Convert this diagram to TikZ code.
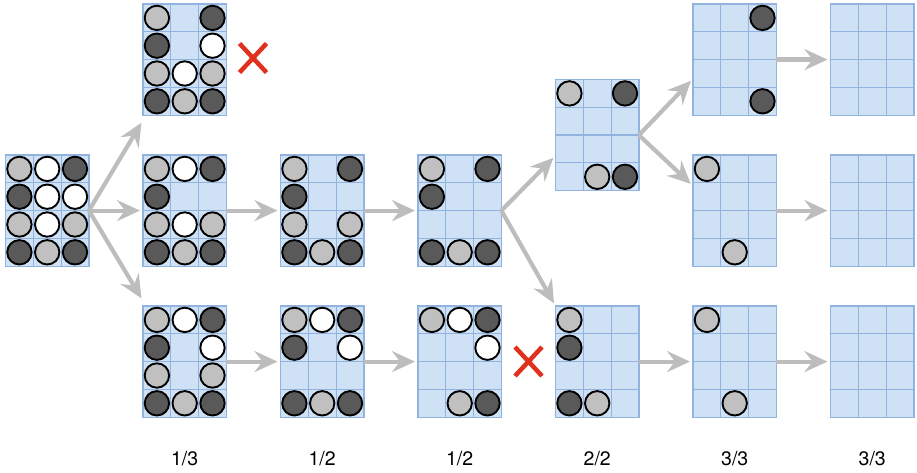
\documentclass[tikz,border=0pt]{standalone}
\usepackage{fontspec}
\setmainfont{TeX Gyre Heros}
\usetikzlibrary{arrows.meta,calc}
\definecolor{gridf}{HTML}{CFE1F4}
\definecolor{gridc}{HTML}{93B3DF}
\definecolor{lg}{HTML}{C0C0C0}
\definecolor{dg}{HTML}{595959}
\definecolor{arrc}{HTML}{BDBDBD}
\definecolor{xred}{HTML}{E0301E}
\tikzset{
  gridbox/.style={draw=gridc, fill=gridf, line width=1.2pt, minimum width=83.4pt, minimum height=111.2pt, inner sep=0pt, outer sep=0pt},
  gridline/.style={draw=gridc, line width=1.2pt},
  stone/.style={draw=black, line width=1.9pt},
  arr/.style={draw=arrc, line width=4.2pt, -{Stealth[length=23pt,width=21pt,inset=8pt]}, shorten >=3pt},
  xmark/.style={draw=xred, line width=4.5pt},
  lbl/.style={font=\fontsize{19.5}{22}\selectfont, inner sep=0pt},
  xnode/.style={inner sep=0pt, minimum size=28pt}
}
\newcommand\mygrid[3]{%
  \node[gridbox] (#1) at ({#2+41.7},{#3+55.6}) {};
  \foreach \i in {1,2} {\draw[gridline] ({#2+27.8*\i},#3) -- ({#2+27.8*\i},{#3+111.2});}
  \foreach \j in {1,2,3} {\draw[gridline] (#2,{#3+27.8*\j}) -- ({#2+83.4},{#3+27.8*\j});}
}
\newcommand\mystones[3]{%
  \foreach \c/\r/\k in {#3} {\draw[stone, fill=\k] ({#1+13.9+27.8*\c},{#2+13.9+27.8*\r}) circle[radius=12.2pt];}
}
\newcommand\mycross[1]{%
  \draw[xmark] ($(#1)+(-13.5,-14.5)$) -- ($(#1)+(13.5,14.5)$);
  \draw[xmark] ($(#1)+(-13.5,14.5)$) -- ($(#1)+(13.5,-14.5)$);
}
\begin{document}
\begin{tikzpicture}[x=1pt,y=-1pt]
\useasboundingbox (0,0) rectangle (917,473);
% column 0
\mygrid{g0}{5.5}{155}
\mystones{5.5}{155}{0/0/lg,1/0/white,2/0/dg,0/1/dg,1/1/white,2/1/white,0/2/lg,1/2/white,2/2/lg,0/3/dg,1/3/lg,2/3/dg}
% column 1
\mygrid{a1}{143}{4}
\mystones{143}{4}{0/0/lg,2/0/dg,0/1/dg,2/1/white,0/2/lg,1/2/white,2/2/lg,0/3/dg,1/3/lg,2/3/dg}
\mygrid{b1}{143}{155}
\mystones{143}{155}{0/0/lg,1/0/white,2/0/dg,0/1/dg,0/2/lg,1/2/white,2/2/lg,0/3/dg,1/3/lg,2/3/dg}
\mygrid{c1}{143}{306}
\mystones{143}{306}{0/0/lg,1/0/white,2/0/dg,0/1/dg,2/1/white,0/2/lg,2/2/lg,0/3/dg,1/3/lg,2/3/dg}
% column 2
\mygrid{b2}{280.5}{155}
\mystones{280.5}{155}{0/0/lg,2/0/dg,0/1/dg,0/2/lg,2/2/lg,0/3/dg,1/3/lg,2/3/dg}
\mygrid{c2}{280.5}{306}
\mystones{280.5}{306}{0/0/lg,1/0/white,2/0/dg,0/1/dg,2/1/white,0/3/dg,1/3/lg,2/3/dg}
% column 3
\mygrid{b3}{418}{155}
\mystones{418}{155}{0/0/lg,2/0/dg,0/1/dg,0/3/dg,1/3/lg,2/3/dg}
\mygrid{c3}{418}{306}
\mystones{418}{306}{0/0/lg,1/0/white,2/0/dg,2/1/white,1/3/lg,2/3/dg}
% column 4
\mygrid{t4}{555.5}{79.5}
\mystones{555.5}{79.5}{0/0/lg,2/0/dg,1/3/lg,2/3/dg}
\mygrid{c4}{555.5}{306}
\mystones{555.5}{306}{0/0/lg,0/1/dg,0/3/dg,1/3/lg}
% column 5
\mygrid{t5}{693}{4}
\mystones{693}{4}{2/0/dg,2/3/dg}
\mygrid{m5}{693}{155}
\mystones{693}{155}{0/0/lg,1/3/lg}
\mygrid{c5}{693}{306}
\mystones{693}{306}{0/0/lg,1/3/lg}
% column 6
\mygrid{t6}{830.5}{4}
\mygrid{m6}{830.5}{155}
\mygrid{c6}{830.5}{306}
% arrows
\draw[arr] (g0.east) -- ($(a1.south west)+(0,5)$);
\draw[arr] (g0.east) -- (b1.west);
\draw[arr] (g0.east) -- ($(c1.north west)+(0,-5)$);
\draw[arr] (b1.east) -- (b2.west);
\draw[arr] (c1.east) -- (c2.west);
\draw[arr] (b2.east) -- (b3.west);
\draw[arr] (c2.east) -- (c3.west);
\draw[arr] (b3.east) -- ($(t4.south west)+(0,-35)$);
\draw[arr] (b3.east) -- (c4.north west);
\draw[arr] (t4.east) -- ($(t5.south west)+(0,-36.5)$);
\draw[arr] (t4.east) -- ($(m5.north west)+(0,31)$);
\draw[arr] (c4.east) -- (c5.west);
\draw[arr] (t5.east) -- (t6.west);
\draw[arr] (m5.east) -- (m6.west);
\draw[arr] (c5.east) -- (c6.west);
% crosses
\node[xnode] (x1) at (253,58) {};
\mycross{x1}
\node[xnode] (x2) at (528.5,361.5) {};
\mycross{x2}
% labels
\node[lbl] (l1) at (184.7,458.3) {1/3};
\node[lbl] (l2) at (322.2,458.3) {1/2};
\node[lbl] (l3) at (459.7,458.3) {1/2};
\node[lbl] (l4) at (597.2,458.3) {2/2};
\node[lbl] (l5) at (734.7,458.3) {3/3};
\node[lbl] (l6) at (872.2,458.3) {3/3};
\end{tikzpicture}
\end{document}
